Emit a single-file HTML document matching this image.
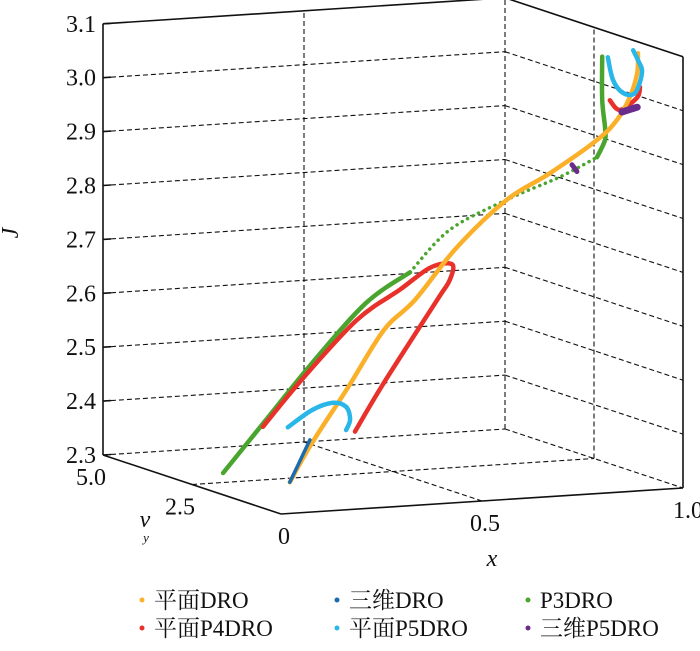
<!DOCTYPE html>
<html><head><meta charset="utf-8"><style>
html,body{margin:0;padding:0;background:#fff;}
svg text{font-family:"Liberation Serif","Noto Serif CJK SC",serif;fill:#111;}
</style></head><body>
<svg id="chart" width="700" height="646" viewBox="0 0 700 646" xmlns="http://www.w3.org/2000/svg">
<g id="grid"></g>
<g id="axes"></g>
<g id="series"></g>
<g id="labels"></g>
<g id="legend"></g>
</svg>
<script>
const jTicks=[2.3,2.4,2.5,2.6,2.7,2.8,2.9,3.0,3.1];
const jTickLabels=["2.3","2.4","2.5","2.6","2.7","2.8","2.9","3.0","3.1"];
const xTicks=[0,0.5,1.0];
const xTickLabels=["0","0.5","1.0"];
const vyTicks=[2.5,5.0];
const vyTickLabels=["2.5","5.0"];
// series: x values and J values (vy taken as 0)
const orangeX=[.022,.077,.167,.256,.333,.438,.562,.669,.786,.836,.868,.886,.888];
const orangeJ=[2.358,2.428,2.527,2.629,2.681,2.774,2.856,2.900,2.956,2.991,3.032,3.075,3.112];
const greenX=[-.144,-.032,.077,.211,.321];
const greenJ=[2.383,2.481,2.576,2.681,2.733];
const greenDotX=[.321,.420,.562,.694,.786];
const greenDotJ=[2.733,2.807,2.856,2.892,2.924];
const greenTopX=[.786,.806,.806,.799,.799];
const greenTopJ=[2.924,2.955,2.979,3.030,3.110];
const redX=[-.045,.057,.189,.296,.371,.425,.420,.388,.256,.184];
const redJ=[2.464,2.551,2.651,2.702,2.739,2.743,2.714,2.678,2.531,2.444];
const redTopX=[.818,.843,.886,.893];
const redTopJ=[3.028,3.009,3.030,3.049];
const cyanX=[.017,.077,.129,.162,.172,.162];
const cyanJ=[2.460,2.489,2.500,2.491,2.467,2.448];
const cyanTopX=[.813,.826,.851,.881,.898,.888,.876];
const cyanTopJ=[3.108,3.065,3.040,3.039,3.076,3.099,3.118];
const blueX=[.022,.072];
const blueJ=[2.358,2.434];
const purpleX=[.848,.886];
const purpleJ=[3.005,3.012];
const purple2X=[.724,.736];
const purple2J=[2.913,2.900];

const NS="http://www.w3.org/2000/svg";
function P(x,vy,J){return [281+402*x-35.6*vy, 514-26*x-11.8*vy-(J-2.3)*539];}
function mk(tag,attrs,parent){const e=document.createElementNS(NS,tag);for(const k in attrs)e.setAttribute(k,attrs[k]);parent.appendChild(e);return e;}
function line(a,b,parent,dash,name){const e=mk('line',{x1:a[0],y1:a[1],x2:b[0],y2:b[1],stroke:'#111','stroke-width':dash?1.1:1.6,'stroke-dasharray':dash?'5,3':'none'},parent);

return e;}
const grid=document.getElementById('grid'),axes=document.getElementById('axes'),ser=document.getElementById('series'),lab=document.getElementById('labels'),leg=document.getElementById('legend');
jTicks.forEach(j=>{
 if(j<3.1){line(P(0,5,j),P(1,5,j),grid,true,'back-wall-gridline');line(P(1,5,j),P(1,0,j),grid,true,'side-wall-gridline');}
});
line(P(0.5,5,2.3),P(0.5,5,3.1),grid,true,'back-wall-vertical-gridline');
line(P(1,5,2.3),P(1,5,3.1),grid,true,'back-corner-gridline');
line(P(1,2.5,2.3),P(1,2.5,3.1),grid,true,'side-wall-vertical-gridline');
line(P(0,2.5,2.3),P(1,2.5,2.3),grid,true,'floor-gridline');
line(P(0.5,0,2.3),P(0.5,5,2.3),grid,true,'floor-gridline');
line(P(0,5,2.3),P(0,5,3.1),axes,false,'j-axis');
line(P(0,5,3.1),P(1,5,3.1),axes,false,'top-edge');
line(P(1,5,3.1),P(1,0,3.1),axes,false,'top-edge');
line(P(1,0,2.3),P(1,0,3.1),axes,false,'right-edge');
line(P(0,5,2.3),P(0,0,2.3),axes,false,'vy-axis');
line(P(0,0,2.3),P(1,0,2.3),axes,false,'x-axis');
jTicks.forEach(j=>{const p=P(0,5,j);line(p,[p[0]+8,p[1]-0.5],axes,false,'j-tick');});
function txt(s,x,y,anchor,name,extra){const e=mk('text',{x:x,y:y,'font-size':24,'text-anchor':anchor},lab);e.textContent=s;

if(extra)for(const k in extra)e.setAttribute(k,extra[k]);return e;}
jTicks.forEach((j,i)=>{const p=P(0,5,j);txt(jTickLabels[i],p[0]-7,p[1]+8,'end','j-tick-label');});
xTicks.forEach((v,i)=>{const p=P(v,0,2.3);txt(xTickLabels[i],p[0]+3+(i==2?2:0),p[1]+30,'middle','x-tick-label');});
vyTicks.forEach((v,i)=>{const p=P(0,v,2.3);txt(vyTickLabels[i],p[0]-12,p[1]+30,'middle','vy-tick-label');});
txt('x',492,566,'middle','x-axis-title',{'font-style':'italic'});
txt('J',22,237,'middle','j-axis-title',{'font-style':'italic',transform:'rotate(-90 18 237)'});
txt('ν',145,527,'middle','vy-axis-title',{'font-style':'italic'});
txt('y',146,542,'middle','vy-axis-subscript',{'font-style':'italic','font-size':13});
function path(xs,js,color,name,w,dash){
 const pts=xs.map((x,i)=>P(x,0,js[i]));
 let d='M'+pts[0][0].toFixed(1)+','+pts[0][1].toFixed(1);
 for(let i=0;i<pts.length-1;i++){
  const p0=pts[Math.max(i-1,0)],p1=pts[i],p2=pts[i+1],p3=pts[Math.min(i+2,pts.length-1)];
  const c1=[p1[0]+(p2[0]-p0[0])/6,p1[1]+(p2[1]-p0[1])/6],c2=[p2[0]-(p3[0]-p1[0])/6,p2[1]-(p3[1]-p1[1])/6];
  d+=' C'+c1[0].toFixed(1)+','+c1[1].toFixed(1)+' '+c2[0].toFixed(1)+','+c2[1].toFixed(1)+' '+p2[0].toFixed(1)+','+p2[1].toFixed(1);
 }
 const e=mk('path',{d:d,fill:'none',stroke:color,'stroke-width':w||4.5,'stroke-linecap':'round','stroke-linejoin':'round'},ser);
 if(dash)e.setAttribute('stroke-dasharray',dash);
 
 }
path(greenX,greenJ,'#4aa52e','p3dro-curve');
path(greenDotX,greenDotJ,'#4aa52e','p3dro-dotted-curve',3.5,'0.1,6');
path(greenTopX,greenTopJ,'#4aa52e','p3dro-top-curve');
path(redX,redJ,'#e8312a','planar-p4dro-curve');
path(redTopX,redTopJ,'#e8312a','planar-p4dro-top-curve');
path(orangeX,orangeJ,'#fbb02a','planar-dro-curve');
path(cyanX,cyanJ,'#29b6e8','planar-p5dro-curve');
path(cyanTopX,cyanTopJ,'#29b6e8','planar-p5dro-top-curve');
path(blueX,blueJ,'#1b6bb0','3d-dro-curve',3.5);
path(purpleX,purpleJ,'#6a2c8c','3d-p5dro-curve',7);
path(purple2X,purple2J,'#6a2c8c','3d-p5dro-small-curve',5);
const legNames=['平面DRO','三维DRO','P3DRO','平面P4DRO','平面P5DRO','三维P5DRO'];
const legColors=['#fbb02a','#1b6bb0','#4aa52e','#e8312a','#29b6e8','#6a2c8c'];
const colX=[142,337,528],rowY=[600,628];
legNames.forEach((n,i)=>{const cx=colX[i%3],cy=rowY[Math.floor(i/3)];
const g=mk('g',{},leg);


mk('circle',{cx:cx,cy:cy,r:2.5,fill:legColors[i]},g);
const t=mk('text',{x:cx+12,y:cy+8,'font-size':23},g);t.textContent=n;});
</script>
</body></html>
